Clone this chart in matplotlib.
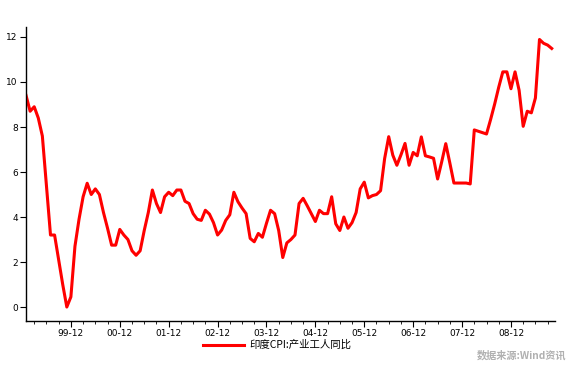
import matplotlib.pyplot as plt
import numpy as np

plt.rcParams['font.family'] = ['DejaVu Sans', 'Noto Sans CJK SC']

# India CPI (industrial workers) yoy, monthly Jan 1999 - Oct 2009
cpi = [9.4, 8.7, 8.9, 8.4, 7.6, 5.4, 3.2, 3.2, 2.1, 1.0, 0.0, 0.45,
       2.7, 3.9, 4.9, 5.5, 5.0, 5.25, 5.0, 4.2, 3.5, 2.75, 2.75, 3.45,
       3.2, 3.0, 2.5, 2.3, 2.5, 3.4, 4.2, 5.2, 4.6, 4.2, 4.9, 5.1,
       4.95, 5.2, 5.2, 4.7, 4.6, 4.15, 3.9, 3.85, 4.3, 4.13, 3.75, 3.2,
       3.42, 3.85, 4.1, 5.1, 4.68, 4.4, 4.15, 3.05, 2.9, 3.27, 3.1, 3.72,
       4.3, 4.15, 3.4, 2.2, 2.85, 3.0, 3.2, 4.6, 4.83, 4.5, 4.15, 3.8,
       4.3, 4.15, 4.15, 4.9, 3.7, 3.4, 4.0, 3.5, 3.75, 4.2, 5.25, 5.55,
       4.85, 4.95, 5.0, 5.17, 6.6, 7.57, 6.75, 6.3, 6.76, 7.27, 6.3, 6.87,
       6.72, 7.56, 6.72, 6.67, 6.61, 5.69, 6.45, 7.26, 6.40, 5.51, 5.51, 5.51,
       5.51, 5.47, 7.87, 7.81, 7.75, 7.69, 8.33, 9.02, 9.77, 10.45, 10.45, 9.70,
       10.45, 9.63, 8.03, 8.70, 8.63, 9.29, 11.89, 11.72, 11.64, 11.49]
tick_labels = ["99-12", "00-12", "01-12", "02-12", "03-12",
               "04-12", "05-12", "06-12", "07-12", "08-12"]
series_name = "印度CPI:产业工人同比"
source = "数据来源:Wind资讯"

fig = plt.figure(figsize=(5.79, 3.66), dpi=100)
ax = fig.add_axes([0.045, 0.123, 0.9135, 0.803])

x = np.arange(len(cpi))
ax.plot(x, cpi, color="#ff0000", lw=2.2, label=series_name)

ax.set_xlim(0, 129.8)
ax.set_ylim(-0.62, 12.44)
ax.set_yticks(range(0, 13, 2))
ax.set_xticks([11 + 12 * i for i in range(len(tick_labels))])
ax.set_xticklabels(tick_labels)
ax.set_xticks(np.arange(2, 130, 3), minor=True)
ax.tick_params(axis="both", which="major", labelsize=6.5, length=4, width=0.8, pad=2)
ax.tick_params(axis="x", which="minor", length=2.5, width=0.6)

for s in ["top", "right"]:
    ax.spines[s].set_visible(False)
for s in ["left", "bottom"]:
    ax.spines[s].set_linewidth(1.0)

fig.legend(loc="center", bbox_to_anchor=(0.478, 0.057), frameon=False,
           handlelength=4.0, handletextpad=0.45,
           prop={"family": ["Noto Sans CJK SC"], "size": 7.5})
fig.text(0.978, 0.03, source, ha="right", va="center", fontsize=7.3,
         color="#b0b0b0", fontweight="bold", family=["Noto Sans CJK SC"])

fig.savefig("out.png", dpi=100)
